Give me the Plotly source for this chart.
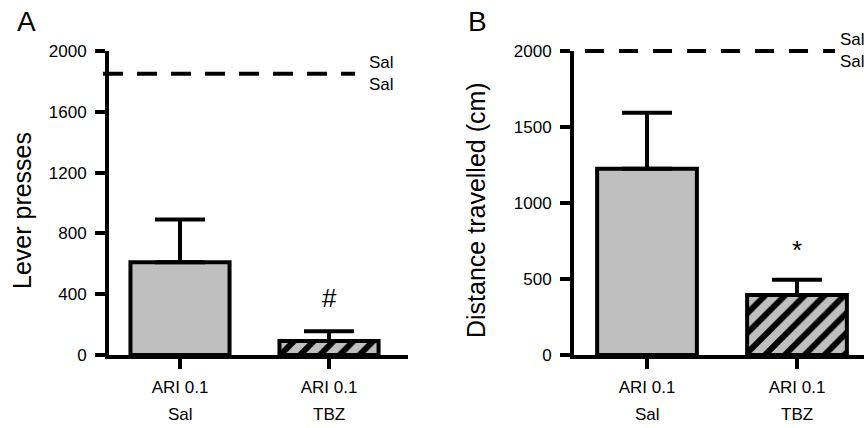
import plotly.graph_objects as go

# ---------------- data ----------------
categories = ["ARI 0.1", "ARI 0.1"]
pretreatment = ["Sal", "TBZ"]
lever_mean = [610, 92]
lever_sem = [282, 65]
dist_mean = [1225, 395]
dist_sem = [368, 100]
sal_ref_lever = 1850
sal_ref_dist = 2000
sal_ref_labels = ["Sal", "Sal"]
lever_ticks = [0, 400, 800, 1200, 1600, 2000]
dist_ticks = [0, 500, 1000, 1500, 2000]
y_range = [0, 2000]
sig_lever = "#"
sig_dist = "*"
y_title_a = "Lever presses"
y_title_b = "Distance travelled (cm)"
panel_labels = ["A", "B"]

# ---------------- layout helpers (pixel positions) ----------------
W, H = 864, 428
FONT = "Arial, 'Liberation Sans', sans-serif"
GRAY = "#bfbfbf"


def px(x):
    return x / W


def py(y):
    return 1 - y / H


xpos = list(range(len(categories)))

fig = go.Figure()


def add_bars(mean, sem, xa, ya):
    fig.add_trace(go.Bar(
        x=xpos, y=mean, width=0.665,
        xaxis=xa, yaxis=ya,
        marker=dict(
            color=GRAY,
            line=dict(color="black", width=4),
            pattern=dict(shape=["", "/"], bgcolor=GRAY, fgcolor="black",
                         fgopacity=1, size=14, solidity=0.42, fillmode="overlay"),
        ),
        error_y=dict(type="data", array=sem, arrayminus=[0] * len(sem),
                     symmetric=False, color="black", thickness=4, width=25),
        showlegend=False,
    ))


add_bars(lever_mean, lever_sem, "x", "y")
add_bars(dist_mean, dist_sem, "x2", "y2")

ydom = [py(355), py(51)]
axis_common = dict(showline=True, linewidth=4, linecolor="black", ticks="outside",
                   ticklen=10, tickwidth=4, tickcolor="black", showgrid=False,
                   zeroline=False, automargin=False,
                   tickfont=dict(size=17, color="black", family=FONT))

fig.update_layout(
    width=W, height=H, autosize=False,
    margin=dict(l=0, r=0, t=0, b=0, pad=0, autoexpand=False),
    paper_bgcolor="white", plot_bgcolor="white",
    font=dict(family=FONT, color="black"),
    showlegend=False,
    xaxis=dict(domain=[px(109), px(408)], range=[-0.4765, 1.530], tickvals=xpos,
               ticktext=categories, anchor="y", ticklabelstandoff=4, **axis_common),
    yaxis=dict(domain=ydom, range=y_range, tickvals=lever_ticks, anchor="x",
               ticklabelstandoff=5, **axis_common),
    xaxis2=dict(domain=[px(574), 1.0], range=[-0.4867, 1.4467], tickvals=xpos,
                ticktext=categories, anchor="y2", ticklabelstandoff=4, **axis_common),
    yaxis2=dict(domain=ydom, range=y_range, tickvals=dist_ticks, anchor="x2",
                ticklabelstandoff=5, **axis_common),
)


def frac(v):
    # position of a data value inside the y-axis domain (0..1)
    return (v - y_range[0]) / (y_range[1] - y_range[0])


# saline reference dashed lines (domain refs so they are not clipped at the top)
fig.add_shape(type="line", xref="x domain", yref="y domain", x0=-0.02, x1=0.823,
              y0=frac(sal_ref_lever), y1=frac(sal_ref_lever),
              line=dict(color="black", width=4, dash="20px,14px"))
fig.add_shape(type="line", xref="x2 domain", yref="y2 domain", x0=0.038, x1=0.90,
              y0=frac(sal_ref_dist), y1=frac(sal_ref_dist),
              line=dict(color="black", width=4, dash="19px,15px"))

ann = []
for xr, yr, xx, yv in [("x domain", "y", 0.863, sal_ref_lever),
                       ("x2 domain", "y2", 0.910, sal_ref_dist)]:
    for lbl, sh in zip(sal_ref_labels, [11, -11]):
        ann.append(dict(text=lbl, xref=xr, yref=yr, x=xx, y=yv, xanchor="left",
                        yanchor="middle", yshift=sh, showarrow=False,
                        font=dict(size=17, family=FONT, color="black")))

# second row of x labels
for xr in ["x", "x2"]:
    for i, lbl in enumerate(pretreatment):
        ann.append(dict(text=lbl, xref=xr, yref="paper", x=xpos[i], y=ydom[0],
                        yanchor="middle", yshift=-59, showarrow=False,
                        font=dict(size=17, family=FONT, color="black")))

# significance marks
ann.append(dict(text=sig_lever, xref="x", yref="y", x=xpos[1],
                y=lever_mean[1] + lever_sem[1], yanchor="bottom", yshift=16,
                showarrow=False, font=dict(size=26, family=FONT, color="black")))
ann.append(dict(text=sig_dist, xref="x2", yref="y2", x=xpos[1],
                y=dist_mean[1] + dist_sem[1], yanchor="bottom", yshift=13,
                showarrow=False, font=dict(size=26, family=FONT, color="black")))

# y-axis titles
ann.append(dict(text=y_title_a, xref="paper", yref="paper", x=px(22), y=py(211),
                textangle=-90, xanchor="center", yanchor="middle", showarrow=False,
                font=dict(size=25, family=FONT, color="black")))
ann.append(dict(text=y_title_b, xref="paper", yref="paper", x=px(476), y=py(210),
                textangle=-90, xanchor="center", yanchor="middle", showarrow=False,
                font=dict(size=25, family=FONT, color="black")))

# panel letters
for lbl, xx in zip(panel_labels, [26, 477.5]):
    ann.append(dict(text=lbl, xref="paper", yref="paper", x=px(xx), y=py(22),
                    xanchor="center", yanchor="middle", showarrow=False,
                    font=dict(size=28, family=FONT, color="black")))

fig.update_layout(annotations=ann)

fig.write_html("out.html", config={"displayModeBar": False},
               post_script="document.body.style.margin='0';document.body.style.overflow='hidden';")
